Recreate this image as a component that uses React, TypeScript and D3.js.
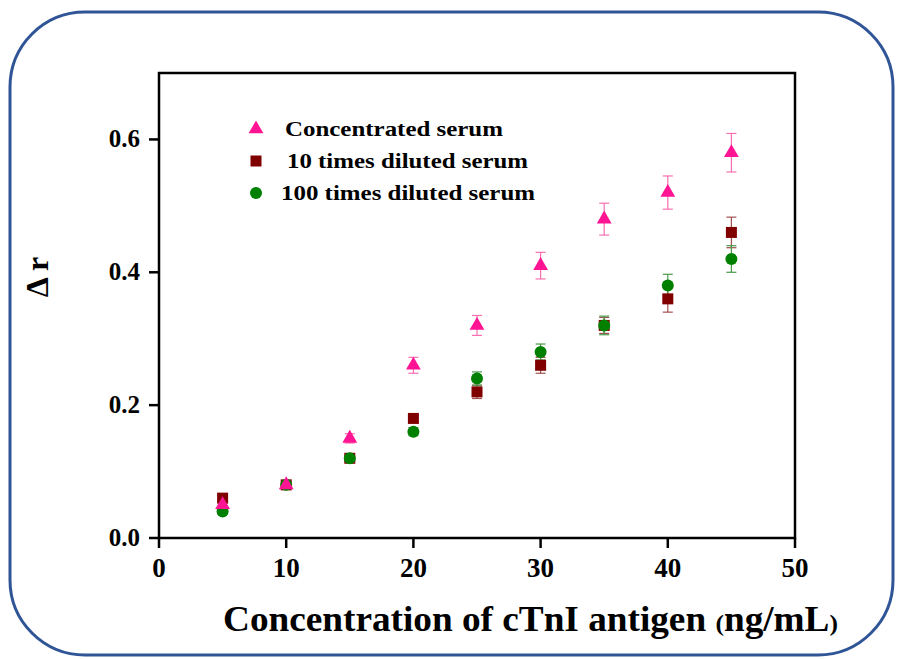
import React from "react";
import * as d3 from "d3";

const concentrations = [5, 10, 15, 20, 25, 30, 35, 40, 45];
const concentratedSerum = [0.05, 0.08, 0.15, 0.26, 0.32, 0.41, 0.48, 0.52, 0.58];
const concentratedErr = [0.005, 0.006, 0.007, 0.012, 0.015, 0.02, 0.024, 0.025, 0.029];
const diluted10 = [0.06, 0.08, 0.12, 0.18, 0.22, 0.26, 0.32, 0.36, 0.46];
const diluted10Err = [0.004, 0.005, 0.005, 0.006, 0.01, 0.012, 0.012, 0.02, 0.023];
const diluted100 = [0.04, 0.08, 0.12, 0.16, 0.24, 0.28, 0.32, 0.38, 0.42];
const diluted100Err = [0.004, 0.005, 0.005, 0.006, 0.01, 0.012, 0.014, 0.017, 0.02];
const xTicks = [0, 10, 20, 30, 40, 50];
const yTicks = [0, 0.2, 0.4, 0.6];
const seriesNames = ["Concentrated serum", "10 times diluted serum", "100 times diluted serum"];

const W = 897, H = 659;
const left = 159, right = 795, top = 73, bottom = 538;
const font = "Liberation Serif";

export default function App() {
  const x = d3.scaleLinear().domain([0, 50]).range([left, right]);
  const y = d3.scaleLinear().domain([0, 0.7]).range([bottom, top]);

  const series = [
    { name: seriesNames[0], vals: concentratedSerum, err: concentratedErr, color: "#ff1493", err_c: "#f76fb0", shape: "tri" },
    { name: seriesNames[1], vals: diluted10, err: diluted10Err, color: "#800000", err_c: "#a05050", shape: "sq" },
    { name: seriesNames[2], vals: diluted100, err: diluted100Err, color: "#008000", err_c: "#4a9a4a", shape: "circ" },
  ];

  const marker = (shape: string, cx: number, cy: number, color: string, key: string | number) => {
    if (shape === "tri") {
      const p = d3.symbol().type(d3.symbolTriangle).size(95)();
      return <path key={key} d={p as string} transform={`translate(${cx},${cy})`} fill={color} />;
    }
    if (shape === "sq") {
      return <rect key={key} x={cx - 5.5} y={cy - 5.5} width={11} height={11} fill={color} />;
    }
    return <circle key={key} cx={cx} cy={cy} r={6} fill={color} />;
  };

  const order = [1, 2, 0];
  const legendX = [285, 287, 281];
  const legendLen = [218, 241, 254];

  return (
    <svg width={W} height={H} style={{ position: "absolute", left: 0, top: 0, background: "#fff" }}>
      <rect x={10} y={12} width={883} height={643} rx={75} ry={75} fill="white" stroke="#2f5597" strokeWidth={3} />
      {order.map((si) => {
        const s = series[si];
        return (
          <g key={"e" + si} stroke={s.err_c} strokeWidth={1.2}>
            {concentrations.map((c, i) => {
              const cx = x(c);
              const y1 = y(s.vals[i] + s.err[i]);
              const y2 = y(s.vals[i] - s.err[i]);
              return (
                <g key={i}>
                  <line x1={cx} x2={cx} y1={y1} y2={y2} />
                  <line x1={cx - 5} x2={cx + 5} y1={y1} y2={y1} />
                  <line x1={cx - 5} x2={cx + 5} y1={y2} y2={y2} />
                </g>
              );
            })}
          </g>
        );
      })}
      {order.map((si) => {
        const s = series[si];
        return (
          <g key={"m" + si}>
            {concentrations.map((c, i) => marker(s.shape, x(c), y(s.vals[i]), s.color, i))}
          </g>
        );
      })}
      <rect x={left} y={top} width={right - left} height={bottom - top} fill="none" stroke="#000" strokeWidth={2.5} />
      {xTicks.map((t) => (
        <g key={"xt" + t}>
          <line x1={x(t)} x2={x(t)} y1={bottom} y2={bottom + 10} stroke="#000" strokeWidth={2.5} />
          <text x={x(t)} y={bottom + 39} textAnchor="middle" fontFamily={font} fontWeight="bold" fontSize={27}>{t}</text>
        </g>
      ))}
      {yTicks.map((t) => (
        <g key={"yt" + t}>
          <line x1={left - 10} x2={left} y1={y(t)} y2={y(t)} stroke="#000" strokeWidth={2.5} />
          <text x={left - 19} y={y(t) + 8} textAnchor="end" fontFamily={font} fontWeight="bold" fontSize={25}>{t.toFixed(1)}</text>
        </g>
      ))}
      {series.map((s, i) => {
        const ly = 129 + i * 32;
        return (
          <g key={"l" + i}>
            {marker(s.shape, 256, ly, s.color, "lm" + i)}
            <text x={legendX[i]} y={ly + 7} fontFamily={font} fontWeight="bold" fontSize={21} textLength={legendLen[i]} lengthAdjust="spacingAndGlyphs">{s.name}</text>
          </g>
        );
      })}
      <text transform="translate(48,277) rotate(-90)" textAnchor="middle" fontFamily={font} fontWeight="bold" fontSize={32}>Δ r</text>
      <text x={223} y={631} fontFamily={font} fontWeight="bold" fontSize={35} textLength={615} lengthAdjust="spacingAndGlyphs">
        Concentration of cTnI antigen <tspan fontSize={24}>(</tspan>ng/mL<tspan fontSize={24}>)</tspan>
      </text>
    </svg>
  );
}
